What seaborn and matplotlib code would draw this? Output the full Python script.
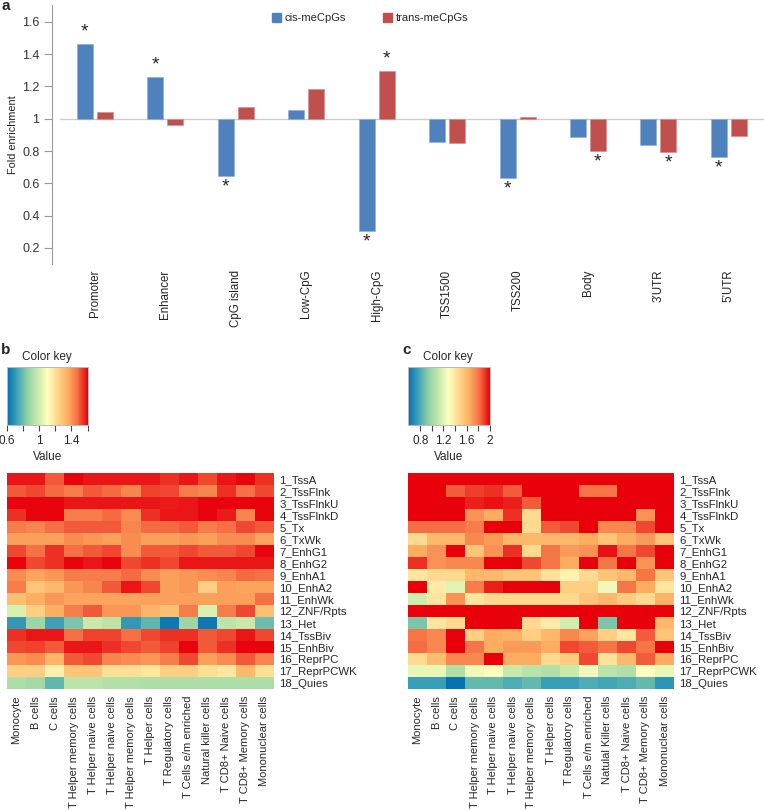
import numpy as np
import pandas as pd
import seaborn as sns
import matplotlib.pyplot as plt
from matplotlib.colors import LinearSegmentedColormap
from matplotlib.patches import Patch

# --- data: panel a (fold enrichment per genomic region) ---
regions = ["Promoter", "Enhancer", "CpG island", "Low-CpG", "High-CpG",
           "TSS1500", "TSS200", "Body", "3\u2019UTR", "5\u2019UTR"]
cis_fold = [1.463, 1.26, 0.643, 1.054, 0.302, 0.853, 0.633, 0.888, 0.837, 0.76]
trans_fold = [1.041, 0.96, 1.074, 1.184, 1.298, 0.85, 1.01, 0.80, 0.792, 0.895]
cis_star = [1, 1, 1, 0, 1, 0, 1, 0, 0, 1]
trans_star = [0, 0, 0, 0, 1, 0, 0, 1, 1, 0]

# --- data: panels b / c (chromatin state enrichment per cell type) ---
states = ["1_TssA", "2_TssFlnk", "3_TssFlnkU", "4_TssFlnkD", "5_Tx", "6_TxWk",
          "7_EnhG1", "8_EnhG2", "9_EnhA1", "10_EnhA2", "11_EnhWk", "12_ZNF/Rpts",
          "13_Het", "14_TssBiv", "15_EnhBiv", "16_ReprPC", "17_ReprPCWK", "18_Quies"]
cells_b = ["Monocyte", "B cells", "C cells", "T Helper memory cells",
           "T Helper naive cells", "T Helper naive cells", "T Helper memory cells",
           "T Helper cells", "T Regulatory cells", "T Cells e/m enriched",
           "Natural killer cells", "T CD8+ Naive cells", "T CD8+ Memory cells",
           "Mononuclear cells"]
cells_c = ["Monocyte", "B cells", "C cells", "T Helper memory cells",
           "T Helper naive cells", "T Helper naive cells", "T Helper memory cells",
           "T Helper cells", "T Regulatory cells", "T Cells e/m enriched",
           "Natulal Killer cells", "T CD8+ Naive cells", "T CD8+ Memory cells",
           "Mononuclear cells"]

b_values = [
    [1.58, 1.58, 1.50, 1.60, 1.58, 1.58, 1.58, 1.58, 1.55, 1.58, 1.52, 1.58, 1.60, 1.55],
    [1.50, 1.52, 1.48, 1.45, 1.50, 1.48, 1.43, 1.53, 1.52, 1.45, 1.43, 1.55, 1.47, 1.52],
    [1.60, 1.60, 1.60, 1.58, 1.58, 1.58, 1.58, 1.58, 1.57, 1.58, 1.60, 1.60, 1.60, 1.60],
    [1.55, 1.60, 1.60, 1.45, 1.45, 1.48, 1.42, 1.55, 1.58, 1.58, 1.60, 1.57, 1.43, 1.60],
    [1.45, 1.43, 1.47, 1.50, 1.50, 1.50, 1.43, 1.48, 1.48, 1.50, 1.45, 1.47, 1.52, 1.50],
    [1.38, 1.38, 1.38, 1.42, 1.40, 1.38, 1.42, 1.38, 1.38, 1.40, 1.38, 1.42, 1.42, 1.37],
    [1.52, 1.47, 1.55, 1.47, 1.50, 1.52, 1.42, 1.50, 1.50, 1.52, 1.50, 1.50, 1.52, 1.60],
    [1.60, 1.52, 1.55, 1.60, 1.58, 1.60, 1.52, 1.55, 1.52, 1.58, 1.58, 1.58, 1.58, 1.58],
    [1.42, 1.37, 1.40, 1.45, 1.45, 1.45, 1.48, 1.42, 1.38, 1.40, 1.42, 1.43, 1.48, 1.47],
    [1.45, 1.28, 1.32, 1.40, 1.43, 1.50, 1.58, 1.52, 1.38, 1.40, 1.25, 1.38, 1.37, 1.37],
    [1.30, 1.35, 1.40, 1.37, 1.37, 1.37, 1.37, 1.38, 1.38, 1.38, 1.38, 1.38, 1.38, 1.47],
    [1.02, 1.25, 1.35, 1.45, 1.50, 1.40, 1.40, 1.33, 1.30, 1.45, 1.02, 1.45, 1.52, 1.30],
    [0.70, 0.88, 0.72, 0.82, 0.98, 0.95, 0.70, 0.78, 0.62, 0.88, 0.62, 0.95, 0.98, 0.80],
    [1.55, 1.58, 1.58, 1.47, 1.53, 1.53, 1.47, 1.52, 1.55, 1.55, 1.50, 1.52, 1.58, 1.52],
    [1.52, 1.53, 1.50, 1.58, 1.58, 1.55, 1.52, 1.50, 1.53, 1.60, 1.50, 1.55, 1.60, 1.60],
    [1.40, 1.42, 1.33, 1.50, 1.52, 1.43, 1.42, 1.40, 1.45, 1.52, 1.38, 1.42, 1.50, 1.43],
    [1.25, 1.25, 1.15, 1.28, 1.28, 1.20, 1.20, 1.18, 1.25, 1.25, 1.20, 1.18, 1.32, 1.20],
    [0.92, 0.90, 0.78, 0.95, 0.95, 0.93, 0.93, 0.92, 0.92, 0.92, 0.92, 0.92, 0.92, 0.92],
]

c_values = [
    [2.00, 2.00, 2.00, 2.00, 2.00, 2.00, 2.00, 2.00, 2.00, 2.00, 2.00, 2.00, 2.00, 2.00],
    [2.00, 2.00, 1.85, 1.90, 1.92, 1.85, 2.00, 2.00, 2.00, 1.80, 1.80, 2.00, 2.00, 2.00],
    [2.00, 2.00, 2.00, 1.95, 1.97, 1.95, 1.85, 2.00, 2.00, 2.00, 2.00, 2.00, 2.00, 2.00],
    [2.00, 2.00, 2.00, 1.72, 1.65, 1.92, 1.45, 2.00, 2.00, 2.00, 2.00, 2.00, 1.72, 2.00],
    [1.82, 1.82, 1.82, 1.78, 2.00, 2.00, 1.45, 1.85, 1.88, 2.00, 1.75, 1.75, 1.88, 2.00],
    [1.45, 1.60, 1.60, 1.75, 1.70, 1.60, 1.60, 1.60, 1.60, 1.65, 1.55, 1.65, 1.70, 1.55],
    [1.65, 1.72, 2.00, 1.55, 1.72, 1.92, 1.45, 1.80, 1.70, 1.72, 1.97, 1.80, 1.88, 2.00],
    [1.92, 1.72, 1.75, 1.75, 2.00, 2.00, 1.88, 1.80, 1.65, 2.00, 1.80, 2.00, 1.72, 2.00],
    [1.40, 1.45, 1.45, 1.60, 1.60, 1.55, 1.55, 1.42, 1.35, 1.45, 1.55, 1.60, 1.80, 1.55],
    [2.00, 1.38, 1.20, 1.78, 1.95, 2.00, 2.00, 2.00, 1.50, 1.50, 1.25, 1.80, 1.65, 1.40],
    [1.15, 1.40, 1.72, 1.40, 1.45, 1.45, 1.45, 1.45, 1.45, 1.55, 1.60, 1.52, 1.45, 1.62],
    [2.00, 2.00, 2.00, 2.00, 2.00, 2.00, 2.00, 2.00, 2.00, 2.00, 2.00, 2.00, 2.00, 2.00],
    [0.90, 1.40, 1.45, 2.00, 2.00, 2.00, 1.45, 1.38, 1.15, 2.00, 0.90, 2.00, 2.00, 1.60],
    [1.80, 1.75, 2.00, 1.50, 1.65, 1.62, 1.50, 1.60, 1.75, 1.68, 1.50, 1.40, 1.85, 1.55],
    [1.82, 1.75, 2.00, 1.80, 1.65, 1.70, 1.70, 1.65, 1.88, 1.85, 1.80, 1.88, 1.80, 2.00],
    [1.45, 1.58, 1.75, 1.75, 2.00, 1.65, 1.65, 1.45, 1.52, 1.88, 1.42, 1.60, 1.85, 1.65],
    [1.22, 1.22, 1.05, 1.25, 1.28, 1.12, 1.08, 1.05, 1.12, 1.25, 1.08, 1.05, 1.30, 1.22],
    [0.75, 0.75, 0.60, 0.85, 0.85, 0.80, 0.85, 0.75, 0.75, 0.80, 0.78, 0.80, 0.85, 0.72],
]

# --- style ---
sns.set_style("white")
plt.rcParams["font.family"] = ["Liberation Sans", "DejaVu Sans"]

W, H = 764, 811
fig = plt.figure(figsize=(W / 100, H / 100), dpi=100)


def px_axes(x0, y0, x1, y1):
    return fig.add_axes([x0 / W, 1 - y1 / H, (x1 - x0) / W, (y1 - y0) / H])


# --- panel a: bars around 1 ---
blue, red = "#4f81bd", "#c0504d"
ax = px_axes(52, 5, 764, 264)
x = np.arange(len(regions))
bw, off = 0.227, 0.142
cis = np.array(cis_fold)
trans = np.array(trans_fold)
ax.bar(x - off, cis - 1, bottom=1, width=bw, color=blue, edgecolor="#8fb0d8", linewidth=0.5)
ax.bar(x + off, trans - 1, bottom=1, width=bw, color=red, edgecolor="#d88f8d", linewidth=0.5)
ax.axhline(1, xmin=0.011, color="#cccccc", lw=1, zorder=0)

for vals, sig, dx in [(cis, cis_star, -off), (trans, trans_star, off)]:
    for i, (v, s) in enumerate(zip(vals, sig)):
        if not s:
            continue
        if v >= 1:
            ax.text(i + dx, v + 0.02, "*", ha="center", va="bottom", fontsize=14)
        else:
            ax.text(i + dx, v - 0.118, "*", ha="center", va="bottom", fontsize=14)

ax.set_xlim(-0.61, 9.5)
ax.set_ylim(0.1, 1.705)
ax.set_yticks([0.2, 0.4, 0.6, 0.8, 1.0, 1.2, 1.4, 1.6],
              ["0.2", "0.4", "0.6", "0.8", "1", "1.2", "1.4", "1.6"])
ax.set_xticks(x, regions, rotation=90)
ax.tick_params(axis="x", length=0, pad=4, labelsize=8.3, colors="#222222")
ax.tick_params(axis="y", left=True, length=6, width=0.8, color="#999999",
               labelsize=9, labelcolor="#333333", pad=3)
for side in ["top", "right", "bottom"]:
    ax.spines[side].set_visible(False)
ax.spines["left"].set_color("#999999")
ax.set_ylabel("Fold enrichment", fontsize=7.8, color="#222222", labelpad=3)
fig.legend(handles=[Patch(color=blue, label="cis-meCpGs"),
                    Patch(color=red, label="trans-meCpGs")],
           loc="upper left", bbox_to_anchor=(272 / W, 1 - 13 / H), ncol=2,
           frameon=False, fontsize=8, handlelength=0.8, handleheight=0.8,
           handletextpad=0.35, columnspacing=3.3, borderpad=0, borderaxespad=0)

# --- panels b / c: heatmaps with colour keys ---
cmap = LinearSegmentedColormap.from_list(
    "key", ["#0570b0", "#3ea3b8", "#8fd1a6", "#c8e9aa", "#ffffbf",
            "#fed68a", "#fdae61", "#f46d43", "#e8000b"])


def heat_panel(values, cells, x0, x1, key_x1, vmin, vmax, ticks, ticklabels, letter):
    df = pd.DataFrame(values, index=states, columns=cells)
    hax = px_axes(x0, 473, x1, 689)
    kax = px_axes(x0, 367, key_x1, 425)
    sns.heatmap(df, ax=hax, cmap=cmap, vmin=vmin, vmax=vmax,
                xticklabels=cells, yticklabels=states,
                cbar_ax=kax, cbar_kws={"orientation": "horizontal", "ticks": ticks})
    hax.yaxis.tick_right()
    hax.set_yticklabels(states, rotation=0, ha="left", fontsize=8.2)
    hax.set_xticklabels(cells, rotation=90, fontsize=8)
    hax.tick_params(length=0, pad=4)
    hax.tick_params(axis="x", pad=5)
    kax.set_xticklabels(ticklabels, fontsize=8.5)
    kax.tick_params(axis="x", bottom=True, length=4, width=0.8, color="#444444", pad=3)
    for sp in kax.spines.values():
        sp.set_visible(True)
        sp.set_color("#bbbbbb")
        sp.set_linewidth(0.6)
    kc = (x0 + key_x1) / 2
    fig.text((x0 + 15) / W, 1 - 357 / H, "Color key", fontsize=8.5, va="center", ha="left")
    fig.text(kc / W, 1 - 457 / H, "Value", fontsize=8.5, va="center", ha="center")
    fig.text((x0 - 6) / W, 1 - 350 / H, letter, fontsize=11, fontweight="bold",
             va="center", ha="left")


heat_panel(b_values, cells_b, 7, 274, 88, 0.6, 1.605,
           [0.6, 0.8, 1.0, 1.2, 1.4, 1.6], ["0.6", "", "1", "", "1.4", ""], "b")
heat_panel(c_values, cells_c, 408, 674, 490, 0.59, 2.0,
           [0.8, 1.0, 1.2, 1.4, 1.6, 1.8, 2.0], ["0.8", "", "1.2", "", "1.6", "", "2"], "c")

fig.text(2 / W, 1 - 6 / H, "a", fontsize=11, fontweight="bold", va="center", ha="left")

fig.savefig("out.png", dpi=100)
